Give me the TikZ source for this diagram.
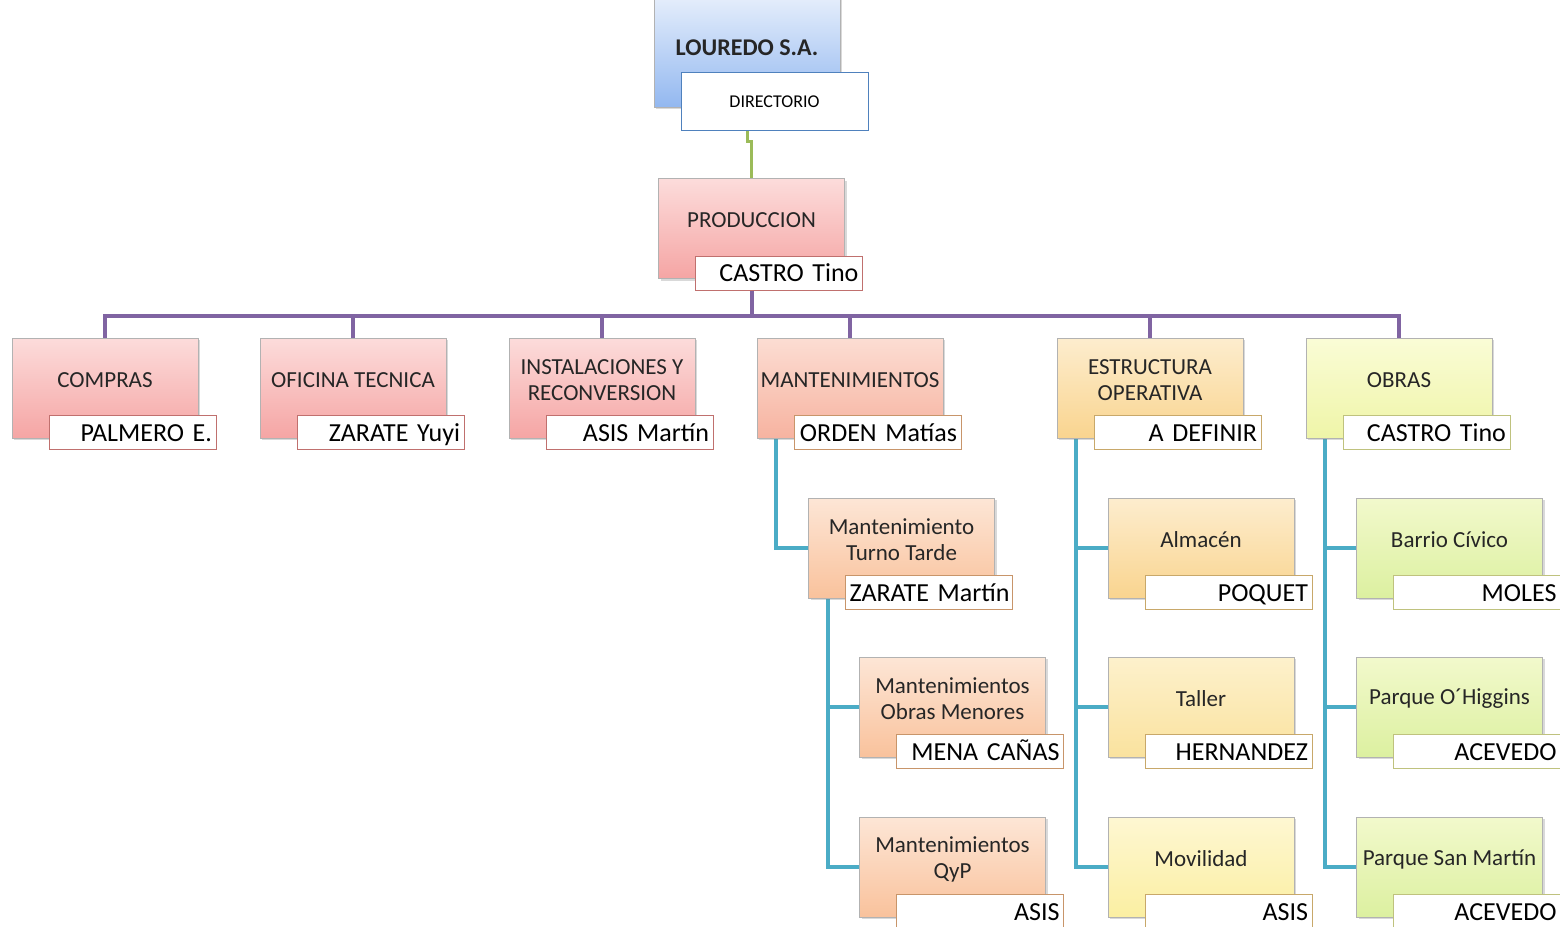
\documentclass[tikz,border=0pt]{standalone}
\usepackage{fontspec}
\setmainfont{Carlito}
\newfontfamily\nombrefont[WordSpace=0.7]{Carlito}
\usetikzlibrary{backgrounds,shadows}

\definecolor{azulA}{HTML}{DCE8FA}
\definecolor{azulB}{HTML}{93B8F0}
\definecolor{azulC}{HTML}{4F81BD}
\definecolor{rosaA}{HTML}{FCDCDB}
\definecolor{rosaB}{HTML}{F5A5A4}
\definecolor{rosaC}{HTML}{C0706E}
\definecolor{salmonA}{HTML}{FCDDD3}
\definecolor{salmonB}{HTML}{F7B3A0}
\definecolor{duraznoA}{HTML}{FDE6D6}
\definecolor{duraznoB}{HTML}{F9C29C}
\definecolor{duraznoC}{HTML}{C8956A}
\definecolor{ambarA}{HTML}{FDEDCE}
\definecolor{ambarB}{HTML}{F9D48F}
\definecolor{ambarC}{HTML}{C8A86A}
\definecolor{cremaA}{HTML}{FDF1CC}
\definecolor{cremaB}{HTML}{FAE29E}
\definecolor{pajaA}{HTML}{FEF7D2}
\definecolor{pajaB}{HTML}{FBEFA2}
\definecolor{limaA}{HTML}{FAFCD6}
\definecolor{limaB}{HTML}{EFF5A8}
\definecolor{limaC}{HTML}{BFC27E}
\definecolor{verdeA}{HTML}{F2F9CC}
\definecolor{verdeB}{HTML}{DCF0A0}
\definecolor{linVerde}{HTML}{9BBB59}
\definecolor{linViol}{HTML}{8064A2}
\definecolor{linAzul}{HTML}{4BACC6}

\begin{document}
\begin{tikzpicture}[x=0.5pt,y=0.5pt]
\tikzstyle{caja} = [rectangle, draw=gray!60, line width=0.4pt, inner sep=0pt,
minimum width=93pt, minimum height=50pt,
drop shadow={shadow xshift=1.2pt, shadow yshift=-1.2pt, opacity=0.3}]
\tikzstyle{rosa} = [caja, top color=rosaA, bottom color=rosaB]
\tikzstyle{salmon} = [caja, top color=salmonA, bottom color=salmonB]
\tikzstyle{durazno} = [caja, top color=duraznoA, bottom color=duraznoB]
\tikzstyle{ambar} = [caja, top color=ambarA, bottom color=ambarB]
\tikzstyle{crema} = [caja, top color=cremaA, bottom color=cremaB]
\tikzstyle{paja} = [caja, top color=pajaA, bottom color=pajaB]
\tikzstyle{lima} = [caja, top color=limaA, bottom color=limaB]
\tikzstyle{verde} = [caja, top color=verdeA, bottom color=verdeB]
\tikzstyle{txt} = [align=center, text=black!85, inner sep=0pt,
font=\fontsize{11.5}{13}\selectfont]
\tikzstyle{nombre} = [rectangle, draw=rosaC, line width=0.4pt, fill=white,
minimum width=83.5pt, minimum height=17pt, text width=79.5pt,
inner xsep=2pt, inner ysep=0pt, align=right, text height=9pt, text depth=0pt,
font=\nombrefont\fontsize{13}{14}\selectfont]
\tikzstyle{linea} = [line width=2pt, line join=miter]

\useasboundingbox (0,0) rectangle (1560,-927);

% row 1
\node [caja, top color=azulA!60, bottom color=azulB, minimum height=58.5pt] (louredo) at (747,-48.5) {};
\node [txt, font=\bfseries\fontsize{12}{14}\selectfont] (louredo-t) at (747,-48) {LOUREDO S.A.};
\node [nombre, draw=azulC, minimum width=93.5pt, minimum height=29pt, text width=89.5pt,
align=center, text height=6pt, font=\fontsize{9}{10}\selectfont] (directorio) at (774.5,-101) {DIRECTORIO};

% row 2
\node [rosa] (produccion) at (751.5,-228.5) {};
\node [txt] (produccion-t) at ([yshift=4pt]produccion.center) {PRODUCCION};
\node [nombre] (produccion-n) at ([shift={(27.5,6)}]produccion.south) {CASTRO Tino};

% row 3
\node [rosa] (compras) at (105,-388) {};
\node [txt] (compras-t) at ([yshift=4pt]compras.center) {COMPRAS};
\node [nombre] (compras-n) at ([shift={(27.5,6)}]compras.south) {PALMERO E.};

\node [rosa] (oficina) at (353,-388) {};
\node [txt] (oficina-t) at ([yshift=4pt]oficina.center) {OFICINA TECNICA};
\node [nombre] (oficina-n) at ([shift={(27.5,6)}]oficina.south) {ZARATE Yuyi};

\node [rosa] (instalaciones) at (602,-388) {};
\node [txt] (instalaciones-t) at ([yshift=4pt]instalaciones.center) {INSTALACIONES Y\\RECONVERSION};
\node [nombre] (instalaciones-n) at ([shift={(27.5,6)}]instalaciones.south) {ASIS Martín};

\node [salmon] (mant) at (850,-388) {};
\node [txt] (mant-t) at ([yshift=4pt]mant.center) {MANTENIMIENTOS};
\node [nombre, draw=duraznoC] (mant-n) at ([shift={(27.5,6)}]mant.south) {ORDEN Matías};

\node [ambar] (estructura) at (1150,-388) {};
\node [txt] (estructura-t) at ([yshift=4pt]estructura.center) {ESTRUCTURA\\OPERATIVA};
\node [nombre, draw=ambarC] (estructura-n) at ([shift={(27.5,6)}]estructura.south) {A DEFINIR};

\node [lima] (obras) at (1399,-388) {};
\node [txt] (obras-t) at ([yshift=4pt]obras.center) {OBRAS};
\node [nombre, draw=limaC] (obras-n) at ([shift={(27.5,6)}]obras.south) {CASTRO Tino};

% mantenimientos
\node [durazno] (tarde) at (901.5,-548) {};
\node [txt] (tarde-t) at ([yshift=4pt]tarde.center) {Mantenimiento\\Turno Tarde};
\node [nombre, draw=duraznoC] (tarde-n) at ([shift={(27.5,6)}]tarde.south) {\mbox{ZARATE Martín}};

\node [durazno] (menores) at (952.5,-707) {};
\node [txt] (menores-t) at ([yshift=4pt]menores.center) {Mantenimientos\\Obras Menores};
\node [nombre, draw=duraznoC] (menores-n) at ([shift={(27.5,6)}]menores.south) {MENA CAÑAS};

\node [durazno] (qyp) at (952.5,-867) {};
\node [txt] (qyp-t) at ([yshift=4pt]qyp.center) {Mantenimientos\\QyP};
\node [nombre, draw=duraznoC] (qyp-n) at ([shift={(27.5,6)}]qyp.south) {ASIS};

% estructura operativa
\node [ambar] (almacen) at (1201,-548) {};
\node [txt] (almacen-t) at ([yshift=4pt]almacen.center) {Almacén};
\node [nombre, draw=ambarC] (almacen-n) at ([shift={(27.5,6)}]almacen.south) {POQUET};

\node [crema] (taller) at (1201,-707) {};
\node [txt] (taller-t) at ([yshift=4pt]taller.center) {Taller};
\node [nombre, draw=ambarC] (taller-n) at ([shift={(27.5,6)}]taller.south) {HERNANDEZ};

\node [paja] (movilidad) at (1201,-867) {};
\node [txt] (movilidad-t) at ([yshift=4pt]movilidad.center) {Movilidad};
\node [nombre, draw=ambarC] (movilidad-n) at ([shift={(27.5,6)}]movilidad.south) {ASIS};

% obras
\node [verde] (barrio) at (1449.5,-548) {};
\node [txt] (barrio-t) at ([yshift=4pt]barrio.center) {Barrio Cívico};
\node [nombre, draw=limaC] (barrio-n) at ([shift={(27.5,6)}]barrio.south) {MOLES};

\node [verde] (higgins) at (1449.5,-707) {};
\node [txt] (higgins-t) at ([yshift=4pt]higgins.center) {Parque O´Higgins};
\node [nombre, draw=limaC] (higgins-n) at ([shift={(27.5,6)}]higgins.south) {ACEVEDO};

\node [verde] (sanmartin) at (1449.5,-867) {};
\node [txt] (sanmartin-t) at ([yshift=4pt]sanmartin.center) {Parque San Martín};
\node [nombre, draw=limaC] (sanmartin-n) at ([shift={(27.5,6)}]sanmartin.south) {ACEVEDO};

\begin{scope}[on background layer]
\draw [linea, draw=linVerde, line width=1.5pt] (louredo.south |- directorio.south) -- ++(0,-11) -| (produccion.north);
\foreach \dep in {compras,oficina,instalaciones,mant,estructura,obras}
  \draw [linea, draw=linViol] (produccion.south) -- ++(0,-37.5) -| (\dep.north);
\draw [linea, draw=linAzul] ([xshift=9.5pt]mant.south west) |- (tarde.west);
\foreach \sub in {menores,qyp}
  \draw [linea, draw=linAzul] ([xshift=10pt]tarde.south west) |- (\sub.west);
\foreach \sub in {almacen,taller,movilidad}
  \draw [linea, draw=linAzul] ([xshift=9.5pt]estructura.south west) |- (\sub.west);
\foreach \sub in {barrio,higgins,sanmartin}
  \draw [linea, draw=linAzul] ([xshift=9.5pt]obras.south west) |- (\sub.west);
\end{scope}
\end{tikzpicture}
\end{document}
